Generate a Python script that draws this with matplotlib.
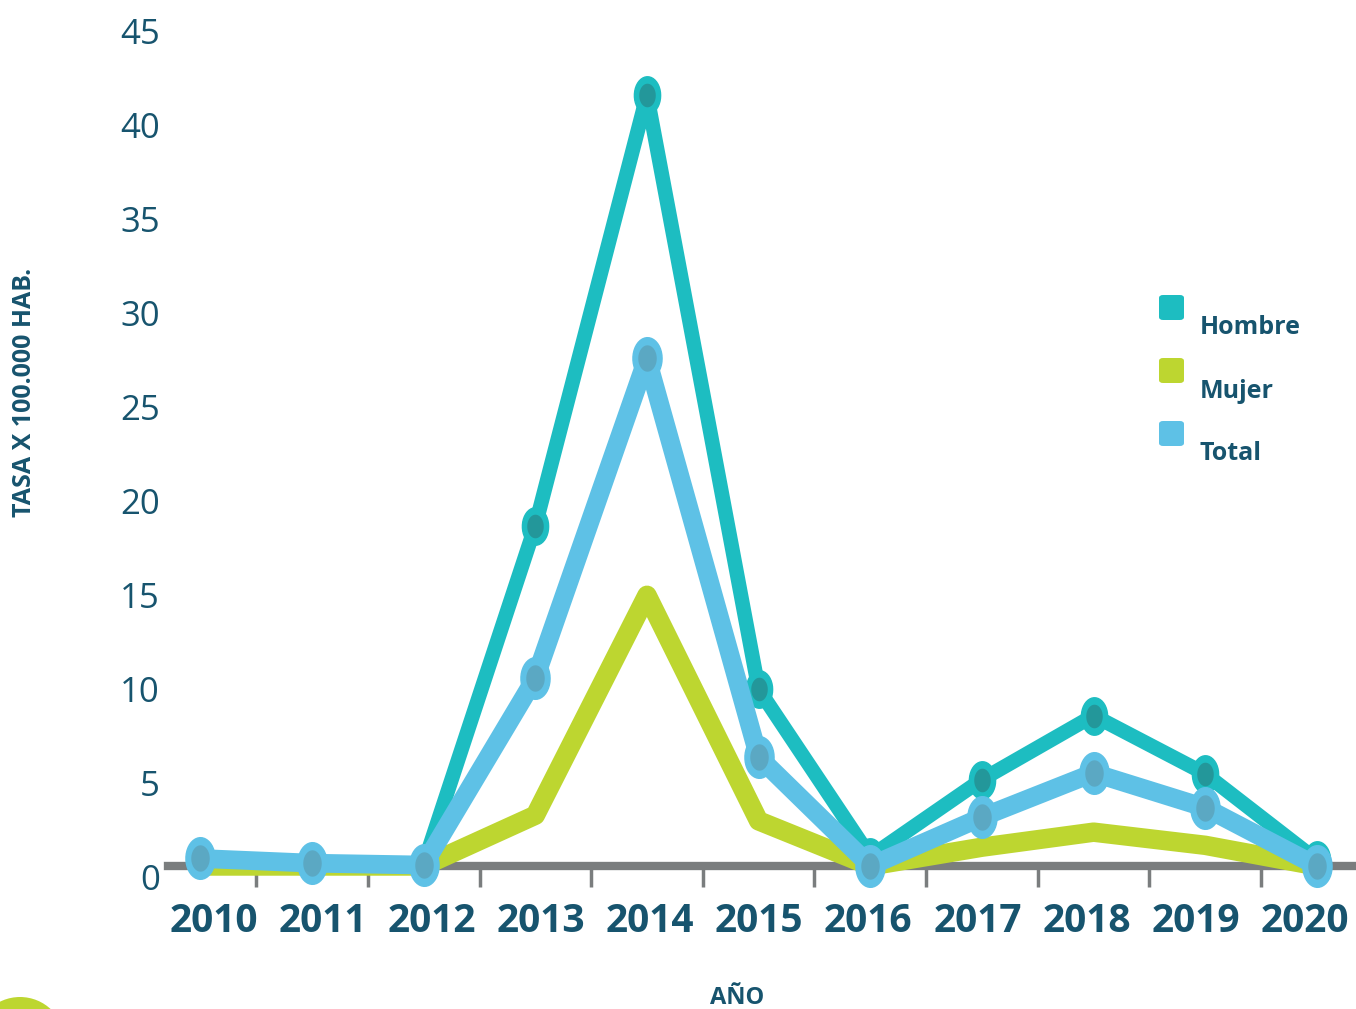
import numpy as np
import matplotlib
matplotlib.use('Agg')
import matplotlib.pyplot as plt
from matplotlib.patches import FancyBboxPatch, Circle
from matplotlib.transforms import ScaledTranslation

# datos (tasa x 100.000 hab.)
years = [2010, 2011, 2012, 2013, 2014, 2015, 2016, 2017, 2018, 2019, 2020]
hombre = [0.4, 0.15, 0.1, 18.1, 41.0, 9.4, 0.5, 4.6, 8.0, 4.9, 0.3]
mujer = [0.0, 0.0, 0.0, 2.7, 14.4, 2.4, 0.0, 1.0, 1.8, 1.1, 0.0]
total = [0.4, 0.15, 0.05, 10.0, 27.0, 5.8, 0.0, 2.6, 4.95, 3.1, 0.0]
yticks = [0, 5, 10, 15, 20, 25, 30, 35, 40, 45]
series_names = ['Hombre', 'Mujer', 'Total']

c_hombre = '#1dbdc1'
c_mujer = '#bdd630'
c_total = '#5ec1e6'
c_text = '#17546e'
c_gray = '#7a7d7e'

plt.rcParams['font.family'] = ['Open Sans', 'DejaVu Sans']

fig = plt.figure(figsize=(13.56, 10.09), dpi=100)
W, H = 1356, 1009
ax = fig.add_axes([168 / W, 1 - 866 / H, (1356 - 168) / W, (866 - 20) / H])
ax.set_xlim(2009.71, 2020.35)
ax.set_ylim(0, 45)

# marcador eliptico
t = np.linspace(0, 2 * np.pi, 40)
ell = np.column_stack([0.7 * np.cos(t), np.sin(t)])

ax.plot(years, hombre, color=c_hombre, lw=10.5, solid_capstyle='round',
        solid_joinstyle='round', zorder=3, clip_on=False)
ax.plot(years, hombre, ls='none', marker=ell, ms=27, mfc=c_hombre, mec=c_hombre,
        zorder=3.1, clip_on=False)
ax.plot(years, hombre, ls='none', marker=ell, ms=17, mfc='#23979a', mec='none',
        zorder=3.2, clip_on=False)

ax.plot(years, mujer, color=c_mujer, lw=14, solid_capstyle='round',
        solid_joinstyle='round', zorder=4, clip_on=False)

ax.plot(years, total, color=c_total, lw=13.5, solid_capstyle='round',
        solid_joinstyle='round', zorder=5, clip_on=False)
ax.plot(years, total, ls='none', marker=ell, ms=30, mfc=c_total, mec=c_total,
        zorder=5.1, clip_on=False)
ax.plot(years, total, ls='none', marker=ell, ms=19, mfc='#5ba8c3', mec='none',
        zorder=5.2, clip_on=False)

for s in ['top', 'right', 'left']:
    ax.spines[s].set_visible(False)
ax.spines['bottom'].set_color(c_gray)
ax.spines['bottom'].set_linewidth(6)
ax.spines['bottom'].set_zorder(2)

ax.set_xticks(years)
ax.set_xticklabels([str(y) for y in years], fontsize=28, fontweight='bold', color=c_text)
ax.set_xticks([y + 0.5 for y in years[:-1]], minor=True)
ax.tick_params(axis='x', which='major', length=0, pad=26)
ax.tick_params(axis='x', which='minor', length=15, width=2.5, color=c_gray, direction='out')
# las etiquetas del original estan un poco mas juntas que los puntos
for i, lab in enumerate(ax.get_xticklabels()):
    dx = (13 - 2.5 * i) / 100
    lab.set_transform(lab.get_transform() + ScaledTranslation(dx, 0, fig.dpi_scale_trans))

ax.set_yticks(yticks)
ax.set_yticklabels([str(v) for v in yticks], fontsize=25, color=c_text)
ax.tick_params(axis='y', length=0, pad=6)
off = ScaledTranslation(0, -11 / 100, fig.dpi_scale_trans)
for lab in ax.get_yticklabels():
    lab.set_transform(lab.get_transform() + off)

fig.text(25 / W, 1 - 392 / H, 'TASA X 100.000 HAB.', rotation=90, ha='center', va='center',
         fontsize=18, fontweight='bold', color=c_text)
fig.text(737 / W, 1 - 998 / H, 'AÑO', ha='center', va='center',
         fontsize=17, fontweight='bold', color=c_text)

# leyenda
for i, (name, col) in enumerate(zip(series_names, [c_hombre, c_mujer, c_total])):
    y0 = 320 + i * 63
    fig.patches.append(FancyBboxPatch((1159 / W, 1 - y0 / H), 25 / W, 25 / H,
                                      boxstyle='round,pad=0,rounding_size=0.003',
                                      transform=fig.transFigure, fc=col, ec='none'))
    fig.text(1200 / W, 1 - (y0 + 8) / H, name, ha='left', va='center',
             fontsize=18, fontweight='bold', color=c_text)

# adorno
fig.patches.append(Circle((20, H - 1042), 45, transform=None, fc=c_mujer, ec='none'))

fig.savefig('out.png', dpi=100)
